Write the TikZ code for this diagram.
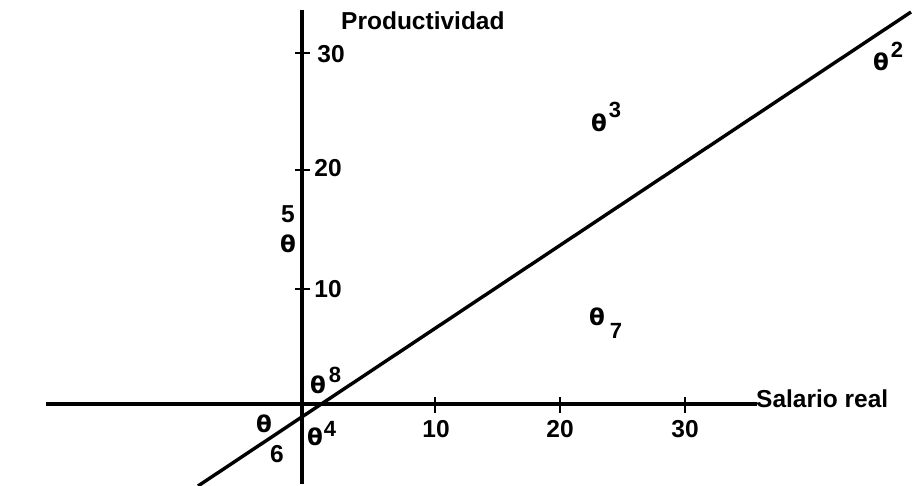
\documentclass[tikz,border=0pt]{standalone}
\usepackage{fontspec}
\setmainfont{Liberation Sans}
\newfontfamily\thetafont{DejaVu Sans}
\begin{document}
\begin{tikzpicture}[x=1pt,y=-1pt,
  axis/.style={line width=3.4pt},
  tickmark/.style={line width=2.6pt},
  lbl/.style={inner sep=0pt,anchor=base,font=\fontsize{24.5}{28}\selectfont\bfseries},
  th/.style={inner sep=0pt,anchor=base,font=\fontsize{23}{28}\thetafont\bfseries},
  sup/.style={inner sep=0pt,anchor=base,font=\fontsize{22}{24}\selectfont\bfseries}]
\useasboundingbox (0,0) rectangle (912,486);
% axes
\coordinate (ytop) at (302,10);
\coordinate (ybot) at (302,484);
\coordinate (xl) at (46,404);
\coordinate (xr) at (757,404);
\draw[axis] (ytop) -- (ybot);
\draw[axis] (xl) -- (xr);
% trend line
\coordinate (la) at (198,486);
\coordinate (lb) at (911,12);
\draw[axis] (la) -- (lb);
% y ticks
\foreach \yy/\nm in {53/y30,170/y20,289/y10}{
  \coordinate (\nm a) at (295,\yy);
  \coordinate (\nm b) at (310,\yy);
  \draw[tickmark] (\nm a) -- (\nm b);
}
% x ticks
\foreach \xx/\nm in {435/x10,560/x20,685/x30}{
  \coordinate (\nm a) at (\xx,397);
  \coordinate (\nm b) at (\xx,413);
  \draw[tickmark] (\nm a) -- (\nm b);
}
% axis labels
\node[lbl,anchor=base west] (prod) at (341,30) {Productividad};
\node[lbl,anchor=base west] (sal) at (756,407) {Salario real};
% tick labels
\node[lbl] (ly30) at (331,63) {30};
\node[lbl] (ly20) at (328,177) {20};
\node[lbl] (ly10) at (328,297) {10};
\node[lbl] (lx10) at (436,437) {10};
\node[lbl] (lx20) at (560,437) {20};
\node[lbl] (lx30) at (685,437) {30};
% point labels
\node[lbl] (p5) at (288,223) {5};
\node[th] (p5t) at (288,253) {θ};
\node[th] (p8t) at (318,393) {θ};
\node[sup] (p8) at (335,382) {8};
\node[th] (p6t) at (264,432) {θ};
\node[lbl] (p6) at (277,462) {6};
\node[th] (p4t) at (315,445) {θ};
\node[sup] (p4) at (330,436) {4};
\node[th] (p3t) at (599,132) {θ};
\node[sup] (p3) at (615,118) {3};
\node[th] (p7t) at (597,325) {θ};
\node[sup] (p7) at (616,338) {7};
\node[th] (p2t) at (881,71) {θ};
\node[sup] (p2) at (897,58) {2};
\end{tikzpicture}
\end{document}
